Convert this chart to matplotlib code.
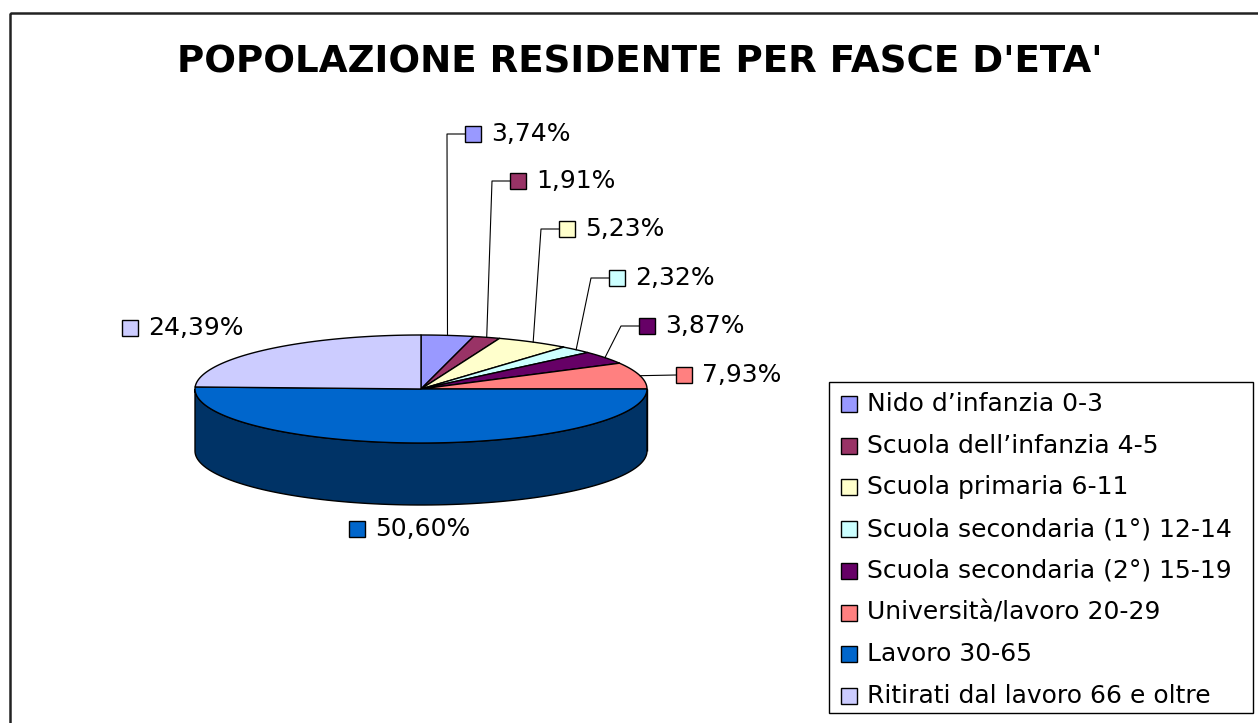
import numpy as np
import matplotlib.pyplot as plt
from matplotlib.patches import Polygon, Rectangle
import matplotlib.colors as mcolors

plt.rcParams['font.family'] = ['DejaVu Sans']

# data
categories = ["Nido d’infanzia 0-3", "Scuola dell’infanzia 4-5", "Scuola primaria 6-11",
              "Scuola secondaria (1°) 12-14", "Scuola secondaria (2°) 15-19",
              "Università/lavoro 20-29", "Lavoro 30-65", "Ritirati dal lavoro 66 e oltre"]
shares = [3.74, 1.91, 5.23, 2.32, 3.87, 7.93, 50.60, 24.39]
colors = ["#9999FF", "#993366", "#FFFFCC", "#CCFFFF", "#660066", "#FF8080", "#0066CC", "#CCCCFF"]
title = "POPOLAZIONE RESIDENTE PER FASCE D'ETA'"

# label positions (marker left x, centre y) in pixels
label_pos = [(465, 134), (510, 181), (559, 229), (609, 278), (639, 326), (676, 375), (349, 529), (122, 328)]
leader = [True, True, True, True, True, True, False, False]

W, H = 1258, 723
fig = plt.figure(figsize=(W / 100, H / 100), dpi=100)
ax = fig.add_axes([0, 0, 1, 1])
ax.set_xlim(0, W)
ax.set_ylim(H, 0)
ax.axis('off')

# outer frame
ax.add_patch(Rectangle((9.5, 13), 1400, 900, fill=False, ec='#222222', lw=1.8))

ax.text(640, 62, title, ha='center', va='center', fontsize=26.8, fontweight='bold')

# 3d pie geometry
cx, cy, rx, ry, depth = 421, 389, 226, 54, 62


def pt(theta, dy=0):
    return cx + rx * np.sin(theta), cy - ry * np.cos(theta) + dy


fr = np.array(shares) / np.sum(shares)
starts = np.concatenate([[0], np.cumsum(fr)[:-1]]) * 2 * np.pi
ends = np.cumsum(fr) * 2 * np.pi

# side walls (front half only)
for s, e, c in zip(starts, ends, colors):
    a, b = max(s, np.pi / 2), min(e, 3 * np.pi / 2)
    if b <= a:
        continue
    t = np.linspace(a, b, 100)
    x, y = pt(t)
    xb, yb = pt(t[::-1], depth)
    dark = np.array(mcolors.to_rgb(c)) * 0.5
    ax.add_patch(Polygon(np.column_stack([np.r_[x, xb], np.r_[y, yb]]),
                         fc=dark, ec='black', lw=1.0))

# top faces
for s, e, c in zip(starts, ends, colors):
    t = np.linspace(s, e, max(3, int(200 * (e - s))))
    x, y = pt(t)
    ax.add_patch(Polygon(np.column_stack([np.r_[cx, x], np.r_[cy, y]]),
                         fc=c, ec='black', lw=1.0, joinstyle='round'))

# data labels
sq = 16
for i, (v, c) in enumerate(zip(shares, colors)):
    lx, ly = label_pos[i]
    if leader[i]:
        mid = (starts[i] + ends[i]) / 2
        ax_, ay_ = pt(mid)
        if abs(ay_ - ly) > 5:
            ex = lx - 18
            ax.plot([ax_, ex, lx], [ay_, ly, ly], color='black', lw=0.8)
        else:
            ax.plot([ax_, lx], [ay_, ly], color='black', lw=0.8)
    ax.add_patch(Rectangle((lx, ly - sq / 2), sq, sq, fc=c, ec='black', lw=1.0))
    ax.text(lx + sq + 10, ly, f"{v:.2f}%".replace('.', ','), ha='left', va='center', fontsize=18)

# legend
ax.add_patch(Rectangle((829, 382), 424, 331, fill=False, ec='black', lw=1.0))
for i, (name, c) in enumerate(zip(categories, colors)):
    yy = 404 + i * 41.7
    ax.add_patch(Rectangle((841, yy - sq / 2), sq, sq, fc=c, ec='black', lw=1.0))
    ax.text(867, yy, name, ha='left', va='center', fontsize=18)

fig.savefig('out.png', dpi=100)
